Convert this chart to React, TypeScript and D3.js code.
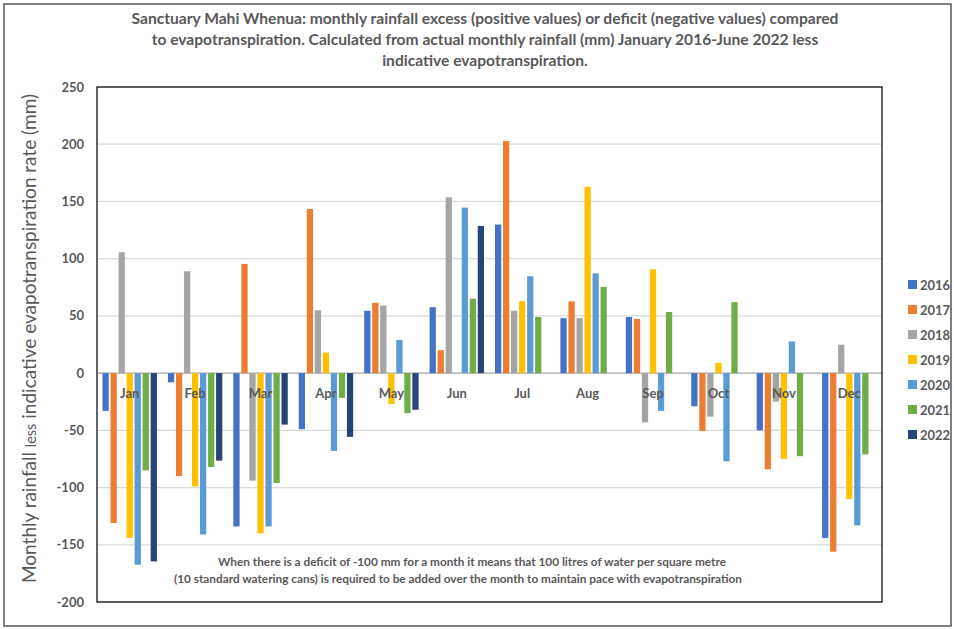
import React from "react";
import * as d3 from "d3";

const months = ["Jan","Feb","Mar","Apr","May","Jun","Jul","Aug","Sep","Oct","Nov","Dec"];
const years = ["2016","2017","2018","2019","2020","2021","2022"];
const colors = ["#4472C4","#ED7D31","#A5A5A5","#FFC000","#5B9BD5","#70AD47","#264478"];

const v2016 = [-33, -8, -134, -49, 54.5, 57.6, 129.8, 48, 49, -29, -50, -144];
const v2017 = [-131, -90, 95.4, 143.5, 61.5, 20, 202.7, 62.7, 47.3, -50.5, -84, -156];
const v2018 = [105.6, 89, -94, 55, 59, 153.6, 54.5, 48, -43, -38, -25, 24.8];
const v2019 = [-144, -99, -140, 18, -27, 0, 63, 162.8, 90.7, 9, -75, -110];
const v2020 = [-167.4, -141, -134, -68, 29, 144.6, 84.6, 87.2, -33, -77, 27.7, -133];
const v2021 = [-85, -82, -96, -21.6, -35, 65, 49, 75.3, 53.4, 62, -72.6, -71];
const v2022: (number | null)[] = [-164.5, -76.5, -45, -55.7, -32, 128.6, null, null, null, null, null, null];
const series = [v2016, v2017, v2018, v2019, v2020, v2021, v2022];

const yTicks = [250, 200, 150, 100, 50, 0, -50, -100, -150, -200];
const titleLines = [
  "Sanctuary Mahi Whenua: monthly rainfall excess (positive values) or deficit (negative values) compared",
  "to evapotranspiration. Calculated from actual monthly rainfall (mm) January 2016-June 2022 less",
  "indicative evapotranspiration.",
];
const noteLines = [
  "When there is a deficit of -100 mm for a month it means that 100 litres of water per square metre",
  "(10 standard watering cans) is required to be added over the month to maintain pace with evapotranspiration",
];

const W = 954, H = 629;
const plot = { left: 97, top: 87, right: 882, bottom: 602 };
const FONT = "Lato, 'Open Sans', sans-serif";
const GREY = "#595959";

export default function App() {
  const x0 = d3.scaleBand<string>().domain(months).range([plot.left, plot.right]);
  const bw = x0.bandwidth();
  const x1 = d3.scaleBand<string>().domain(years).range([5.5, bw - 5.5]).paddingInner(0.22);
  const y = d3.scaleLinear().domain([-200, 250]).range([plot.bottom, plot.top]);

  return (
    <svg width={W} height={H} style={{ position: "absolute", left: 0, top: 0, background: "#fff" }} fontFamily={FONT}>
      <rect x={4} y={4} width={947} height={622} fill="#fff" stroke="#555" strokeWidth={1.5} />
      {titleLines.map((t, i) => (
        <text key={i} x={485} y={24 + i * 21} textAnchor="middle" fontSize={15.6} fontWeight="bold" fill={GREY}>{t}</text>
      ))}
      {yTicks.map((t) => (
        <g key={t}>
          <line x1={plot.left} x2={plot.right} y1={y(t)} y2={y(t)} stroke={t === 0 ? "#a6a6a6" : "#d9d9d9"} strokeWidth={1.2} />
          <text x={84} y={y(t) + 4.5} textAnchor="end" fontSize={13} fontWeight="bold" fill={GREY}>{t}</text>
        </g>
      ))}
      {series.map((vals, si) => (
        <g key={si} fill={colors[si]}>
          {vals.map((v, mi) => {
            if (v === null || v === 0) return null;
            const xx = (x0(months[mi]) as number) + (x1(years[si]) as number);
            return (
              <rect key={mi} x={xx} width={x1.bandwidth()} y={Math.min(y(v), y(0))} height={Math.abs(y(v) - y(0))} />
            );
          })}
        </g>
      ))}
      {months.map((m) => (
        <text key={m} x={(x0(m) as number) + bw / 2} y={y(0) + 25} textAnchor="middle" fontSize={13} fontWeight="bold" fill={GREY}>{m}</text>
      ))}
      <rect x={plot.left} y={plot.top} width={plot.right - plot.left} height={plot.bottom - plot.top} fill="none" stroke="#111" strokeWidth={1.3} />
      {noteLines.map((t, i) => (
        <text key={i} x={i === 0 ? 472 : 458} y={566 + i * 17} textAnchor="middle" fontSize={11.8} fontWeight="bold" fill={GREY}>{t}</text>
      ))}
      {years.map((yr, i) => (
        <g key={yr}>
          <rect x={908} y={280 + i * 25} width={9} height={9} fill={colors[i]} />
          <text x={920} y={289.5 + i * 25} fontSize={13} fontWeight="bold" fill={GREY}>{yr}</text>
        </g>
      ))}
      <text transform={`translate(36,${(plot.top + plot.bottom) / 2 - 6}) rotate(-90)`} textAnchor="middle" fontSize={19} fill={GREY}>
        Monthly rainfall <tspan fontSize={14.5}>less</tspan> indicative evapotranspiration rate (mm)
      </text>
    </svg>
  );
}
